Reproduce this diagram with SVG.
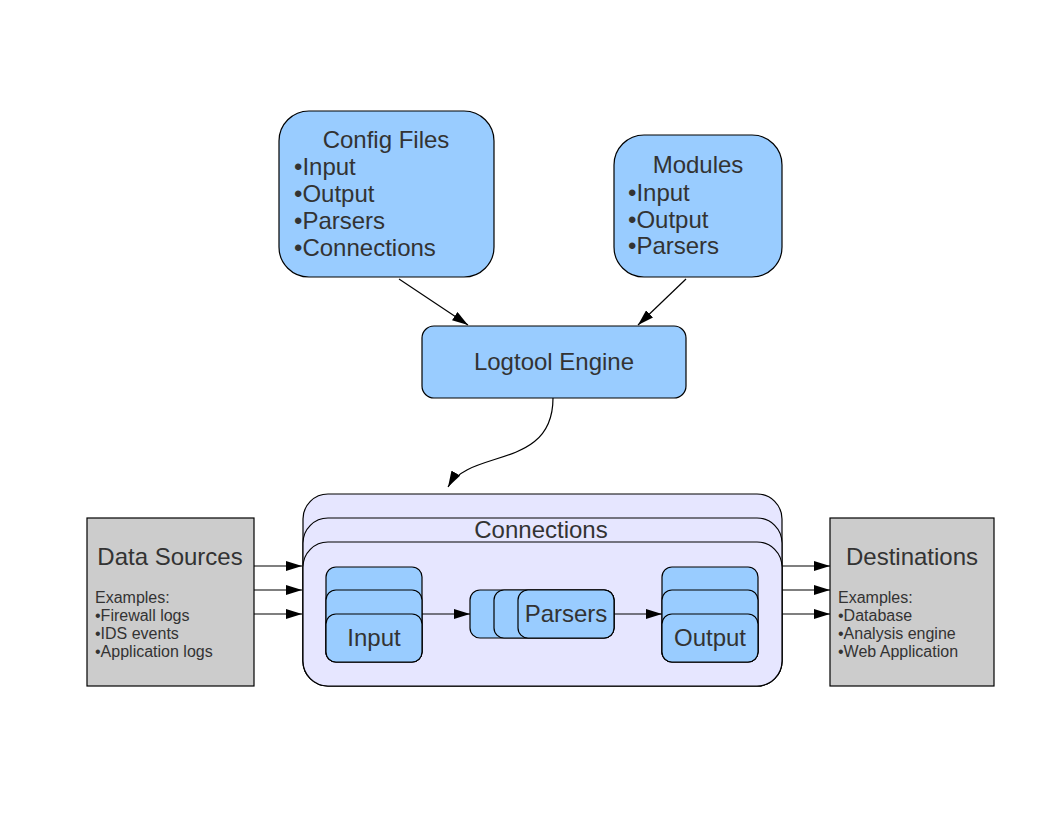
<svg xmlns="http://www.w3.org/2000/svg" width="1056" height="816" viewBox="0 0 1056 816">
<defs>
<marker id="ah" viewBox="0 0 16 10" refX="16" refY="5" markerWidth="16" markerHeight="10" markerUnits="userSpaceOnUse" orient="auto">
<path d="M0,0 L16,5 L0,10 Z" fill="#000"/>
</marker>
</defs>
<style>
.blue{fill:#99ccff;stroke:#000;stroke-width:1.2}
.lav{fill:#e6e6ff;stroke:#000;stroke-width:1.2}
.gray{fill:#cccccc;stroke:#000;stroke-width:1.2}
text{font-family:"Liberation Sans",Arial,sans-serif;fill:#333333}
.big{font-size:24px}
.small{font-size:16px}
.c{text-anchor:middle}
.conn{stroke:#000;stroke-width:1.2;fill:none;marker-end:url(#ah)}
</style>
<rect width="1056" height="816" fill="#fff"/>
<g id="config-files">
<rect class="blue" x="279" y="111" width="215" height="166" rx="30"/>
<text class="big c" x="386" y="148">Config Files</text>
<text class="big" x="294" y="175">•Input</text>
<text class="big" x="294" y="202">•Output</text>
<text class="big" x="294" y="229">•Parsers</text>
<text class="big" x="294" y="256">•Connections</text>
</g>
<g id="modules">
<rect class="blue" x="614" y="135" width="168" height="142" rx="30"/>
<text class="big c" x="698" y="173">Modules</text>
<text class="big" x="628" y="201">•Input</text>
<text class="big" x="628" y="228">•Output</text>
<text class="big" x="628" y="254">•Parsers</text>
</g>
<g id="logtool-engine">
<rect class="blue" x="422" y="326" width="264" height="72" rx="12"/>
<text class="big c" x="554" y="370">Logtool Engine</text>
</g>
<g id="connections">
<rect class="lav" x="303" y="494" width="479" height="192" rx="25"/>
<rect class="lav" x="303" y="518" width="479" height="168" rx="25"/>
<rect class="lav" x="303" y="542" width="479" height="144" rx="25"/>
<text class="big c" x="541" y="538">Connections</text>
</g>
<g id="input">
<rect class="blue" x="326" y="567" width="96" height="95" rx="10"/>
<rect class="blue" x="326" y="590" width="96" height="72" rx="10"/>
<rect class="blue" x="326" y="614" width="96" height="48" rx="10"/>
<text class="big c" x="374" y="646">Input</text>
</g>
<g id="parsers">
<rect class="blue" x="470" y="590" width="144" height="48" rx="10"/>
<rect class="blue" x="494" y="590" width="120" height="48" rx="10"/>
<rect class="blue" x="518" y="590" width="96" height="48" rx="10"/>
<text class="big c" x="566" y="622">Parsers</text>
</g>
<g id="output">
<rect class="blue" x="662" y="567" width="96" height="95" rx="10"/>
<rect class="blue" x="662" y="590" width="96" height="72" rx="10"/>
<rect class="blue" x="662" y="614" width="96" height="48" rx="10"/>
<text class="big c" x="710" y="646">Output</text>
</g>
<g id="data-sources">
<rect class="gray" x="87" y="518" width="167" height="168"/>
<text class="big c" x="170" y="565">Data Sources</text>
<text class="small" x="95" y="603">Examples:</text>
<text class="small" x="95" y="621">•Firewall logs</text>
<text class="small" x="95" y="639">•IDS events</text>
<text class="small" x="95" y="657">•Application logs</text>
</g>
<g id="destinations">
<rect class="gray" x="830" y="518" width="164" height="168"/>
<text class="big c" x="912" y="565">Destinations</text>
<text class="small" x="838" y="603">Examples:</text>
<text class="small" x="838" y="621">•Database</text>
<text class="small" x="838" y="639">•Analysis engine</text>
<text class="small" x="838" y="657">•Web Application</text>
</g>
<g id="connectors">
<line class="conn" x1="399" y1="279" x2="468" y2="325"/>
<line class="conn" x1="686" y1="279" x2="638" y2="325"/>
<path class="conn" d="M553,398 C553,470 470,448 448,487"/>
<line class="conn" x1="254" y1="566" x2="302" y2="566"/>
<line class="conn" x1="254" y1="590" x2="302" y2="590"/>
<line class="conn" x1="254" y1="614" x2="302" y2="614"/>
<line class="conn" x1="422" y1="614" x2="470" y2="614"/>
<line class="conn" x1="614" y1="614" x2="662" y2="614"/>
<line class="conn" x1="782" y1="566" x2="830" y2="566"/>
<line class="conn" x1="782" y1="590" x2="830" y2="590"/>
<line class="conn" x1="782" y1="614" x2="830" y2="614"/>
</g>
</svg>
